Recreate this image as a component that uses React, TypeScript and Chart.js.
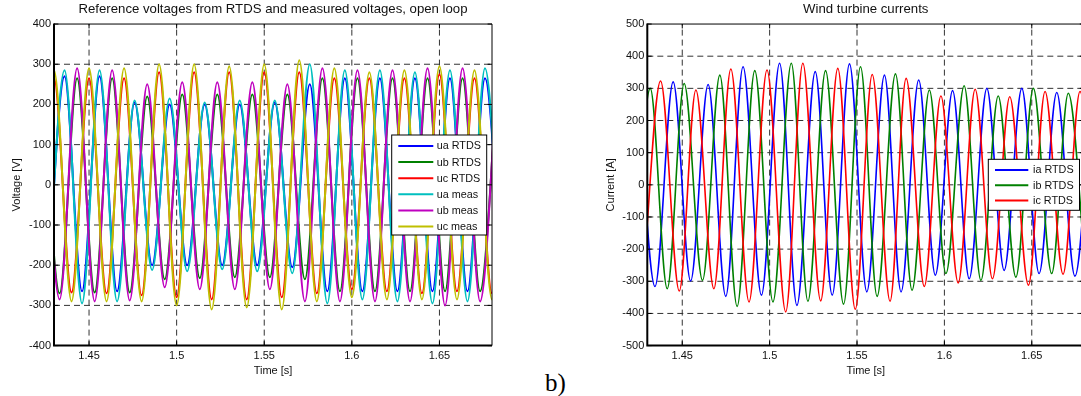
import React, { useEffect, useRef } from "react";
import { Chart, registerables } from "chart.js";

Chart.register(...registerables);

// ---------- Data: left chart (voltages) ----------
const xTicks = [1.45, 1.5, 1.55, 1.6, 1.65];
const xTickLabels = ["1.45", "1.5", "1.55", "1.6", "1.65"];
const vTicks = [-400, -300, -200, -100, 0, 100, 200, 300, 400];
const vTickLabels = ["-400", "-300", "-200", "-100", "0", "100", "200", "300", "400"];
const iTicks = [-500, -400, -300, -200, -100, 0, 100, 200, 300, 400, 500];
const iTickLabels = ["-500", "-400", "-300", "-200", "-100", "0", "100", "200", "300", "400", "500"];

// extrema times of phase a / b / c (s)
const tA = [1.426, 1.436, 1.446, 1.456, 1.466, 1.476, 1.486, 1.496, 1.506, 1.516, 1.526, 1.536, 1.546, 1.556, 1.566, 1.576, 1.586, 1.596, 1.606, 1.616, 1.626, 1.636, 1.646, 1.656, 1.666, 1.676, 1.686];
const tB = [1.4232, 1.4332, 1.4432, 1.4532, 1.4632, 1.4732, 1.4832, 1.4932, 1.5032, 1.5132, 1.5232, 1.5332, 1.5432, 1.5532, 1.5632, 1.5732, 1.5832, 1.5932, 1.6032, 1.6132, 1.6232, 1.6332, 1.6432, 1.6532, 1.6632, 1.6732, 1.6832];
const tC = [1.42, 1.43, 1.44, 1.45, 1.46, 1.47, 1.48, 1.49, 1.5, 1.51, 1.52, 1.53, 1.54, 1.55, 1.56, 1.57, 1.58, 1.59, 1.6, 1.61, 1.62, 1.63, 1.64, 1.65, 1.66, 1.67, 1.68, 1.69];

const uaRTDS = [-265, 270, -265, 270, -265, 205, -200, 200, -200, 200, -200, 200, -200, 205, -205, 250, -265, 265, -265, 265, -265, 265, -265, 265, -265, 265, -265];
const uaMeas = [-290, 285, -295, 285, -290, 210, -212, 215, -215, 205, -210, 210, -215, 210, -220, 300, -295, 285, -285, 285, -290, 280, -295, 285, -290, 290, -290];
const ubRTDS = [265, -270, 265, -268, 265, -268, 220, -235, 225, -232, 225, -230, 225, -230, 225, -235, 265, -265, 265, -265, 265, -265, 265, -265, 265, -265, 265];
const ubMeas = [285, -285, 290, -290, 285, -288, 250, -255, 255, -260, 255, -260, 255, -260, 250, -290, 290, -290, 285, -290, 285, -290, 290, -300, 290, -290, 285];
const ucRTDS = [-265, 265, -268, 265, -270, 265, -275, 280, -280, 280, -285, 280, -285, 280, -280, 280, -270, 265, -260, 265, -265, 265, -270, 275, -265, 265, -270, 265];
const ucMeas = [-290, 285, -290, 290, -290, 290, -290, 300, -300, 300, -310, 295, -305, 300, -310, 310, -290, 290, -280, 280, -285, 285, -285, 295, -285, 285, -285, 285];

// ---------- Data: right chart (currents) ----------
const tIa = [1.4244, 1.4344, 1.4448, 1.4548, 1.4648, 1.4749, 1.4848, 1.4953, 1.5057, 1.5156, 1.5261, 1.5358, 1.5457, 1.5556, 1.5657, 1.5752, 1.5853, 1.5948, 1.6047, 1.6142, 1.6243, 1.6342, 1.6443, 1.6542, 1.6643, 1.6747, 1.6843];
const iaRTDS = [310, -316, 320, -299, 312, -347, 367, -343, 378, -375, 352, -343, 376, -333, 341, -333, 326, -281, 293, -292, 300, -266, 300, -276, 287, -284, 290];
const tIb = [1.4217, 1.4317, 1.4414, 1.4511, 1.4616, 1.4715, 1.4814, 1.4915, 1.5019, 1.5124, 1.5219, 1.532, 1.5423, 1.552, 1.5615, 1.572, 1.5815, 1.5914, 1.6009, 1.6113, 1.6209, 1.6308, 1.6409, 1.6509, 1.6614, 1.6709, 1.681];
const ibRTDS = [-310, 300, -323, 315, -297, 341, -378, 355, -364, 378, -362, 355, -371, 367, -347, 345, -328, 295, -276, 308, -297, 276, -287, 300, -276, 285, -280];
const tIc = [1.4276, 1.4376, 1.4483, 1.4578, 1.4681, 1.4778, 1.4882, 1.4985, 1.5092, 1.519, 1.5292, 1.539, 1.549, 1.5587, 1.5689, 1.5781, 1.5885, 1.598, 1.6079, 1.6176, 1.6275, 1.6374, 1.6481, 1.6576, 1.6679, 1.6776, 1.6876];
const icRTDS = [-300, 323, -330, 295, -323, 360, -364, 357, -395, 378, -361, 362, -387, 343, -362, 331, -316, 276, -305, 297, -292, 274, -312, 290, -278, 290, -290];

const FONT = "'Liberation Sans', Arial, Helvetica, sans-serif";

const pts = (t: number[], v: number[]) => t.map((x, i) => ({ x, y: v[i] }));

type LegendCfg = { x: number; y: number; w: number; h: number; row0: number; rowH: number; l0: number; l1: number; tx: number; font: number };

const framePlugin = {
  id: "matlabFrame",
  beforeDatasetsDraw(chart: any, _a: any, opts: any) {
    const { ctx, chartArea: ca, scales } = chart;
    const xs = scales.x, ys = scales.y;
    ctx.save();
    ctx.strokeStyle = "#333";
    ctx.lineWidth = 1;
    ctx.setLineDash([6, 4]);
    for (const v of opts.xGrid) {
      const px = xs.getPixelForValue(v);
      ctx.beginPath(); ctx.moveTo(px, ca.bottom); ctx.lineTo(px, ca.top); ctx.stroke();
    }
    for (const v of opts.yGrid) {
      const py = ys.getPixelForValue(v);
      ctx.beginPath(); ctx.moveTo(ca.left, py); ctx.lineTo(ca.right, py); ctx.stroke();
    }
    ctx.restore();
  },
  afterDatasetsDraw(chart: any, _a: any, opts: any) {
    const { ctx, chartArea: ca, scales } = chart;
    const xs = scales.x, ys = scales.y;
    ctx.save();
    ctx.setLineDash([]);
    ctx.strokeStyle = "#000";
    ctx.lineWidth = 1;
    const tl = 4.4;
    for (const v of opts.xGrid) {
      const px = xs.getPixelForValue(v);
      ctx.beginPath(); ctx.moveTo(px, ca.bottom); ctx.lineTo(px, ca.bottom - tl); ctx.stroke();
      ctx.beginPath(); ctx.moveTo(px, ca.top); ctx.lineTo(px, ca.top + tl); ctx.stroke();
    }
    for (const v of opts.yTicks) {
      const py = ys.getPixelForValue(v);
      ctx.beginPath(); ctx.moveTo(ca.left, py); ctx.lineTo(ca.left + tl, py); ctx.stroke();
      ctx.beginPath(); ctx.moveTo(ca.right, py); ctx.lineTo(ca.right - tl, py); ctx.stroke();
    }
    ctx.lineWidth = 1;
    ctx.beginPath(); ctx.moveTo(ca.left, ca.top); ctx.lineTo(ca.right, ca.top); ctx.lineTo(ca.right, ca.bottom); ctx.stroke();
    ctx.lineWidth = 2;
    ctx.beginPath(); ctx.moveTo(ca.left, ca.top - 0.5); ctx.lineTo(ca.left, ca.bottom); ctx.lineTo(ca.right, ca.bottom); ctx.stroke();
    const lg: LegendCfg = opts.legend;
    ctx.fillStyle = "#fff";
    ctx.fillRect(lg.x, lg.y, lg.w, lg.h);
    ctx.lineWidth = 1;
    ctx.strokeStyle = "#000";
    ctx.strokeRect(lg.x, lg.y, lg.w, lg.h);
    ctx.font = `${lg.font}px ${FONT}`;
    ctx.textBaseline = "middle";
    ctx.textAlign = "left";
    chart.data.datasets.forEach((ds: any, i: number) => {
      const y = lg.y + lg.row0 + i * lg.rowH;
      ctx.strokeStyle = ds.borderColor;
      ctx.lineWidth = 2;
      ctx.beginPath(); ctx.moveTo(lg.x + lg.l0, y); ctx.lineTo(lg.x + lg.l1, y); ctx.stroke();
      ctx.fillStyle = "#111";
      ctx.fillText(ds.label, lg.x + lg.tx, y + 0.5);
    });
    ctx.restore();
  },
};

function makeConfig(p: {
  datasets: any[];
  title: string;
  yTitle: string;
  yMin: number; yMax: number;
  yTicks: number[]; yLabels: string[];
  yWidth: number; yTitlePad: number; padRight: number;
  legend: LegendCfg;
  lineWidth: number;
}) {
  return {
    type: "line",
    data: {
      datasets: p.datasets.map((d, i) => ({
        label: d.label,
        data: d.data,
        borderColor: d.color,
        backgroundColor: d.color,
        borderWidth: p.lineWidth,
        pointRadius: 0,
        fill: false,
        cubicInterpolationMode: "monotone",
        order: p.datasets.length - i,
      })),
    },
    options: {
      animation: false,
      responsive: false,
      events: [],
      layout: { padding: { left: 0, top: 0, right: p.padRight, bottom: 0 } },
      plugins: {
        legend: { display: false },
        tooltip: { enabled: false },
        title: {
          display: true,
          text: p.title,
          fullSize: false,
          color: "#111",
          font: { family: FONT, size: 13.2, weight: "normal", lineHeight: 1.2 },
          padding: { top: 1.6, bottom: 6.6 },
        },
        matlabFrame: {
          xGrid: xTicks,
          yGrid: p.yTicks.slice(1, -1),
          yTicks: p.yTicks,
          legend: p.legend,
        },
      },
      scales: {
        x: {
          type: "linear",
          min: 1.43,
          max: 1.68,
          afterBuildTicks: (s: any) => { s.ticks = xTicks.map((v) => ({ value: v })); },
          afterFit: (s: any) => { s.height = 396 - 345.6; },
          grid: { display: false, drawTicks: false },
          border: { display: false },
          ticks: {
            padding: 4,
            color: "#111",
            font: { family: FONT, size: 11 },
            maxRotation: 0,
            autoSkip: false,
            callback: (v: number) => { const k = xTicks.findIndex((t) => Math.abs(t - v) < 1e-9); return k >= 0 ? xTickLabels[k] : ""; },
          },
          title: { display: true, text: "Time [s]", color: "#111", font: { family: FONT, size: 11, lineHeight: 1.2 }, padding: { top: 0, bottom: 18.9 } },
        },
        y: {
          type: "linear",
          min: p.yMin,
          max: p.yMax,
          afterBuildTicks: (s: any) => { s.ticks = p.yTicks.map((v) => ({ value: v })); },
          afterFit: (s: any) => { s.width = p.yWidth; },
          grid: { display: false, drawTicks: false },
          border: { display: false },
          ticks: {
            padding: 3,
            color: "#111",
            font: { family: FONT, size: 11 },
            autoSkip: false,
            callback: (v: number) => { const k = p.yTicks.indexOf(v); return k >= 0 ? p.yLabels[k] : ""; },
          },
          title: { display: true, text: p.yTitle, color: "#111", font: { family: FONT, size: 11, lineHeight: 1.2 }, padding: { top: p.yTitlePad, bottom: 0 } },
        },
      },
    },
    plugins: [framePlugin],
  } as any;
}

function ChartCanvas({ config, left, width }: { config: any; left: number; width: number }) {
  const ref = useRef<HTMLCanvasElement | null>(null);
  useEffect(() => {
    if (!ref.current) return;
    const c = new Chart(ref.current, config);
    return () => c.destroy();
  }, [config]);
  return (
    <canvas
      ref={ref}
      width={width}
      height={396}
      style={{ position: "absolute", left, top: 0, width, height: 396, display: "block" }}
    />
  );
}

const leftConfig = makeConfig({
  datasets: [
    { label: "ua RTDS", data: pts(tA, uaRTDS), color: "#0000ff" },
    { label: "ub RTDS", data: pts(tB, ubRTDS), color: "#008000" },
    { label: "uc RTDS", data: pts(tC, ucRTDS), color: "#ff0000" },
    { label: "ua meas", data: pts(tA, uaMeas), color: "#00bfbf" },
    { label: "ub meas", data: pts(tB, ubMeas), color: "#bf00bf" },
    { label: "uc meas", data: pts(tC, ucMeas), color: "#bfbf00" },
  ],
  title: "Reference voltages from RTDS and measured voltages, open loop",
  yTitle: "Voltage [V]",
  yMin: -400, yMax: 400,
  yTicks: vTicks, yLabels: vTickLabels,
  yWidth: 54, yTitlePad: 10, padRight: 540 - 492,
  legend: { x: 391.7, y: 135, w: 95, h: 100, row0: 11, rowH: 16.1, l0: 6.6, l1: 41.6, tx: 45, font: 10.8 },
  lineWidth: 2,
});

const rightConfig = makeConfig({
  datasets: [
    { label: "ia RTDS", data: pts(tIa, iaRTDS), color: "#0000ff" },
    { label: "ib RTDS", data: pts(tIb, ibRTDS), color: "#008000" },
    { label: "ic RTDS", data: pts(tIc, icRTDS), color: "#ff0000" },
  ],
  title: "Wind turbine currents",
  yTitle: "Current [A]",
  yMin: -500, yMax: 500,
  yTicks: iTicks, yLabels: iTickLabels,
  yWidth: 647.3 - 590, yTitlePad: 14.4, padRight: 500 - (1084.2 - 590),
  legend: { x: 398.3, y: 159.3, w: 91.2, h: 51, row0: 10.7, rowH: 15.3, l0: 6.7, l1: 40, tx: 44.7, font: 10.8 },
  lineWidth: 1.6,
});

export default function App() {
  return (
    <div style={{ position: "fixed", left: 0, top: 0, width: 1081, height: 396, overflow: "hidden", background: "#fff" }}>
      <ChartCanvas config={leftConfig} left={0} width={540} />
      <ChartCanvas config={rightConfig} left={590} width={500} />
      <div
        style={{
          position: "absolute",
          left: 545,
          top: 370,
          fontFamily: "'Liberation Serif', 'Times New Roman', serif",
          fontSize: 25,
          lineHeight: "25px",
          color: "#000",
          whiteSpace: "nowrap",
        }}
      >
        b)
      </div>
    </div>
  );
}
